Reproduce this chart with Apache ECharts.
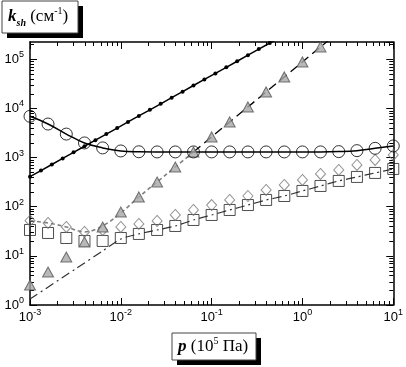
<!DOCTYPE html>
<html>
<head>
<meta charset="utf-8">
<script src="https://cdn.jsdelivr.net/npm/echarts@6/dist/echarts.min.js"></script>
<style>
html,body{margin:0;padding:0;background:#fff;}
#chart{width:406px;height:367px;}
</style>
</head>
<body>
<div id="chart"></div>
<script>
// ---- data (pressure p in 10^5 Pa, k_sh in cm^-1) ----
const xRange = [0.001, 10];
const yRange = [1, 224000];

// small filled dots on straight solid line
const pDots = [0.001,0.00132,0.00174,0.00229,0.00302,0.00398,0.00525,0.00692,0.00912,0.0120,0.0158,0.0209,0.0275,0.0363,0.0479,0.0631,0.0832,0.110,0.145,0.191,0.251,0.331,0.437,0.575];
const kDots = [408,543,721,959,1274,1694,2252,2994,3981,5290,7030,9350,12400,16500,21900,29200,38800,51500,68500,91000,121000,161000,214000,284000];

// common p grid for markers
const pGrid = [0.001,0.00158,0.00251,0.00398,0.00631,0.01,0.0158,0.0251,0.0398,0.0631,0.1,0.158,0.251,0.398,0.631,1,1.58,2.51,3.98,6.31,10];

// open circles (with solid curve)
const kCircles = [6900,4800,3000,1980,1570,1360,1310,1300,1300,1300,1300,1300,1300,1300,1300,1300,1300,1320,1380,1540,1720];
// open diamonds
const kDiamonds = [52.0,46.6,38.7,30.6,33.6,38.7,44.5,51.2,67.8,85.7,108,137,165,219,277,350,463,559,706,893,1128];
// open squares
const kSquares = [33.6,29.2,23.1,20.1,20.1,23.1,27.9,33.6,40.5,53.7,67.8,85.7,108,137,165,209,264,334,403,486,586];
// gray triangles
const pTriangles = [0.001,0.00158,0.00251,0.00398,0.00631,0.01,0.0158,0.0251,0.0398,0.0631,0.1,0.158,0.251,0.398,0.631,1,1.58];
const kTriangles = [2.55,4.69,9.48,19.1,38.7,78.1,158,318,643,1298,2624,5300,10700,21600,43600,88100,178000];

// theory curves
const pDotted = [0.001,0.00158,0.00251,0.00398,0.00631,0.01,0.0158,0.0251,0.0398,0.0631];
const kDotted = [52.0,46.6,38.7,30.6,40.5,74.5,158,318,643,1298];
const pDashed = [0.0631,0.1,0.158,0.251,0.398,0.631,1,1.58,2.51];
const kDashed = [1298,2624,5300,10700,21600,43600,88100,178000,360000];
const pDashDot = [0.001,0.00316,0.00631,0.01,0.0158,0.0251,0.0398,0.0631,0.1,0.158,0.251,0.398,0.631,1,1.58,2.51,3.98,6.31,10];
const kDashDot = [1.32,5.4,12.6,22.0,27.9,33.6,40.5,53.7,67.8,85.7,108,137,165,209,264,334,403,486,586];

const xTickExponents = [-3,-2,-1,0,1];
const yTickExponents = [0,1,2,3,4,5];

function zip(a, b){ return a.map((v,i)=>[v,b[i]]); }

function expLabel(v, list){
  const e = Math.round(Math.log10(v));
  if (Math.abs(Math.log10(v) - e) > 1e-6 || list.indexOf(e) < 0) return '';
  return '{b|10}{s|' + e + '}';
}
const labelRich = {
  b: {fontFamily:'Liberation Sans, Arial, sans-serif', fontSize:13, lineHeight:18, color:'#000'},
  s: {fontFamily:'Liberation Sans, Arial, sans-serif', fontSize:9, lineHeight:9, verticalAlign:'top', color:'#000'}
};

const chart = echarts.init(document.getElementById('chart'), null, {renderer:'canvas'});

const axisLineStyle = {show:true, lineStyle:{color:'#000', width:1.5}};
function xAxisDef(pos, labels){
  return {
    type:'log', logBase:10, min:xRange[0], max:xRange[1], position:pos,
    axisLine:axisLineStyle,
    axisTick:{show:true, inside:true, length:7, lineStyle:{color:'#000', width:1}},
    axisLabel:{show:labels, margin:3, formatter:v=>expLabel(v,xTickExponents), rich:labelRich},
    splitLine:{show:false}, minorTick:{show:false}
  };
}
function yAxisDef(pos, labels){
  return {
    type:'log', logBase:10, min:yRange[0], max:yRange[1], position:pos,
    axisLine:axisLineStyle,
    axisTick:{show:true, inside:true, length:7, lineStyle:{color:'#000', width:1}},
    axisLabel:{show:labels, margin:6, showMaxLabel:false, formatter:v=>expLabel(v,yTickExponents), rich:labelRich},
    splitLine:{show:false}, minorTick:{show:false}
  };
}

const serif = 'Liberation Serif, Times New Roman, serif';

const option = {
  animation:false,
  backgroundColor:'#fff',
  grid:{left:30, right:7, top:42, bottom:62, containLabel:false},
  xAxis:[xAxisDef('bottom', true), xAxisDef('top', false)],
  yAxis:[yAxisDef('left', true), yAxisDef('right', false)],
  graphic:[
    {type:'rect', shape:{x:7, y:6, width:76, height:32}, style:{fill:'#000'}},
    {type:'rect', shape:{x:2, y:1, width:76, height:32}, style:{fill:'#fff', stroke:'#444', lineWidth:1}},
    {type:'text', left:8, top:6, style:{
      text:'{k|k}{sub|sh}{n| (см}{sup|-1}{n|)}',
      rich:{
        k:{fontFamily:serif, fontSize:17, fontWeight:'bold', fontStyle:'italic', lineHeight:22, fill:'#000'},
        sub:{fontFamily:serif, fontSize:10, fontWeight:'bold', fontStyle:'italic', lineHeight:10, verticalAlign:'bottom', fill:'#000'},
        n:{fontFamily:serif, fontSize:17, lineHeight:22, fill:'#000'},
        sup:{fontFamily:serif, fontSize:10, lineHeight:10, verticalAlign:'top', fill:'#000'}
      }
    }},
    {type:'rect', shape:{x:177, y:338, width:84, height:27}, style:{fill:'#000'}},
    {type:'rect', shape:{x:172, y:333, width:84, height:27}, style:{fill:'#fff', stroke:'#444', lineWidth:1}},
    {type:'text', left:178, top:336, style:{
      text:'{p|p}{n| (10}{sup|5}{n| Па)}',
      rich:{
        p:{fontFamily:serif, fontSize:17, fontWeight:'bold', fontStyle:'italic', lineHeight:22, fill:'#000'},
        n:{fontFamily:serif, fontSize:17, lineHeight:22, fill:'#000'},
        sup:{fontFamily:serif, fontSize:10, lineHeight:10, verticalAlign:'top', fill:'#000'}
      }
    }}
  ],
  series:[
    // minor ticks on all four sides
    {
      type:'custom', xAxisIndex:0, yAxisIndex:0, data:[[0.01,10]], silent:true, clip:false, z:1,
      renderItem:function(params, api){
        const bl = api.coord([xRange[0], yRange[0]]);
        const tr = api.coord([xRange[1], yRange[1]]);
        const ch = [];
        const st = {stroke:'#000', lineWidth:1};
        for (let d=-3; d<1; d++){
          for (let m=2; m<10; m++){
            const v = m*Math.pow(10,d);
            const px = Math.round(api.coord([v, yRange[0]])[0]) + 0.5;
            ch.push({type:'line', shape:{x1:px, y1:bl[1], x2:px, y2:bl[1]-4}, style:st});
            ch.push({type:'line', shape:{x1:px, y1:tr[1], x2:px, y2:tr[1]+4}, style:st});
          }
        }
        for (let d=0; d<6; d++){
          for (let m=2; m<10; m++){
            const v = m*Math.pow(10,d);
            if (v > yRange[1]) continue;
            const py = Math.round(api.coord([xRange[0], v])[1]) + 0.5;
            ch.push({type:'line', shape:{x1:bl[0], y1:py, x2:bl[0]+4, y2:py}, style:st});
            ch.push({type:'line', shape:{x1:tr[0], y1:py, x2:tr[0]-4, y2:py}, style:st});
          }
        }
        return {type:'group', children:ch};
      }
    },
    // theory curves
    {type:'line', data:zip(pDashDot,kDashDot), smooth:0.25, symbol:'none', z:2,
     lineStyle:{color:'#333', width:1.2, type:[9,4,2,4]}},
    {type:'line', data:zip(pDotted,kDotted), smooth:0.35, symbol:'none', z:2,
     lineStyle:{color:'#808080', width:1.6, type:[4,3]}},
    {type:'line', data:zip(pDashed,kDashed), smooth:false, symbol:'none', z:2,
     lineStyle:{color:'#000', width:1.3, type:[9,5]}},
    {type:'line', data:zip(pGrid,kCircles), smooth:0.4, symbol:'none', z:2,
     lineStyle:{color:'#000', width:1.5}},
    {type:'line', data:zip(pDots,kDots), symbol:'circle', symbolSize:4, showAllSymbol:true, z:3,
     itemStyle:{color:'#000'}, lineStyle:{color:'#000', width:1.5}},
    // markers
    {type:'scatter', data:zip(pGrid,kSquares), symbol:'rect', symbolSize:11, clip:false, z:4,
     itemStyle:{color:'rgba(0,0,0,0)', borderColor:'#222', borderWidth:1}},
    {type:'scatter', data:zip(pGrid,kDiamonds), symbol:'diamond', symbolSize:[10,11], clip:false, z:4,
     itemStyle:{color:'rgba(0,0,0,0)', borderColor:'#777', borderWidth:1}},
    {type:'scatter', data:zip(pTriangles,kTriangles), symbol:'triangle', symbolSize:[11,10], clip:false, z:4,
     itemStyle:{color:'#a8a8a8', borderColor:'#555', borderWidth:1}},
    {type:'scatter', data:zip(pGrid,kCircles), symbol:'circle', symbolSize:12, clip:false, z:4,
     itemStyle:{color:'rgba(0,0,0,0)', borderColor:'#000', borderWidth:1}}
  ]
};
chart.setOption(option);
</script>
</body>
</html>
